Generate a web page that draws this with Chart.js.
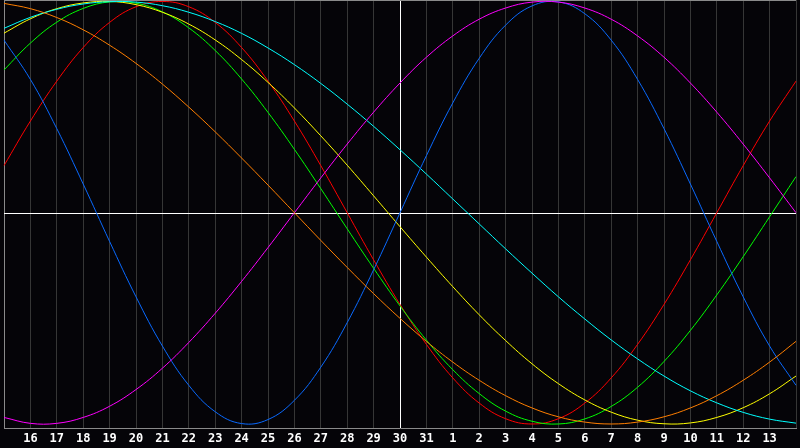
<!DOCTYPE html>
<html>
<head>
<meta charset="utf-8">
<script src="https://cdn.jsdelivr.net/npm/chart.js@4"></script>
<style>
  html, body { margin: 0; padding: 0; background: #050408; }
  #wrap { width: 800px; height: 448px; position: relative; }
</style>
</head>
<body>
<div id="wrap"><canvas id="bio"></canvas></div>
<script>
// day numbers along the bottom (15 .. 31, 1 .. 14); first and last are not printed
const dayLabels = ['15','16','17','18','19','20','21','22','23','24','25','26','27','28','29','30','31',
                   '1','2','3','4','5','6','7','8','9','10','11','12','13','14'];
const todayIndex = 15;

// curve values, one per day, -1 .. 1
const physical     = [0.817,0.631,0.398,0.136,-0.136,-0.398,-0.631,-0.817,-0.942,-0.998,-0.979,-0.888,-0.731,-0.520,-0.270,0.000,
                      0.270,0.520,0.731,0.888,0.979,0.998,0.942,0.817,0.631,0.398,0.136,-0.136,-0.398,-0.631,-0.817];
const emotional    = [0.223,0.434,0.623,0.782,0.901,0.975,1.000,0.975,0.901,0.782,0.623,0.434,0.223,0.000,-0.223,-0.434,
                      -0.623,-0.782,-0.901,-0.975,-1.000,-0.975,-0.901,-0.782,-0.623,-0.434,-0.223,0.000,0.223,0.434,0.623];
const intellectual = [0.676,0.803,0.902,0.967,0.998,0.992,0.951,0.875,0.768,0.633,0.475,0.300,0.114,-0.076,-0.263,-0.441,
                      -0.603,-0.743,-0.856,-0.939,-0.987,-1.000,-0.976,-0.917,-0.826,-0.704,-0.557,-0.389,-0.208,-0.019,0.171];
const intuitive    = [-0.969,-0.997,-0.997,-0.969,-0.916,-0.837,-0.736,-0.614,-0.476,-0.325,-0.165,0.000,0.165,0.325,0.476,0.614,
                      0.736,0.837,0.916,0.969,0.997,0.997,0.969,0.916,0.837,0.736,0.614,0.476,0.325,0.165,0.000];
const aesthetic    = [0.850,0.918,0.966,0.993,1.000,0.985,0.949,0.893,0.818,0.725,0.617,0.496,0.364,0.225,0.080,-0.066,
                      -0.210,-0.350,-0.483,-0.605,-0.715,-0.809,-0.886,-0.944,-0.982,-0.999,-0.995,-0.969,-0.923,-0.857,-0.773];
const awareness    = [0.991,0.966,0.924,0.866,0.793,0.707,0.609,0.500,0.383,0.259,0.131,0.000,-0.131,-0.259,-0.383,-0.500,
                      -0.609,-0.707,-0.793,-0.866,-0.924,-0.966,-0.991,-1.000,-0.991,-0.966,-0.924,-0.866,-0.793,-0.707,-0.609];
const spiritual    = [0.873,0.925,0.963,0.988,0.999,0.997,0.980,0.949,0.905,0.849,0.780,0.701,0.612,0.514,0.409,0.298,
                      0.183,0.065,-0.053,-0.171,-0.286,-0.398,-0.503,-0.602,-0.692,-0.773,-0.843,-0.900,-0.945,-0.977,-0.996];

const series = [
  { label: 'awareness',    data: awareness,    color: '#ff7f00' },
  { label: 'intuitive',    data: intuitive,    color: '#ff00ff' },
  { label: 'physical',     data: physical,     color: '#0a6aff' },
  { label: 'spiritual',    data: spiritual,    color: '#00ffff' },
  { label: 'aesthetic',    data: aesthetic,    color: '#ffff00' },
  { label: 'intellectual', data: intellectual, color: '#00ff00' },
  { label: 'emotional',    data: emotional,    color: '#ff0000' }
];

// zero line and the top frame line, drawn under the curves
const framePlugin = {
  id: 'frame',
  beforeDatasetsDraw(chart) {
    const { ctx, chartArea, scales } = chart;
    const y0 = Math.round(scales.y.getPixelForValue(0)) + 0.5;
    ctx.save();
    ctx.lineWidth = 1;
    ctx.strokeStyle = '#ffffff';
    ctx.beginPath();
    ctx.moveTo(chartArea.left, y0);
    ctx.lineTo(chartArea.right, y0);
    ctx.stroke();
    ctx.strokeStyle = '#8a8a8a';
    ctx.beginPath();
    ctx.moveTo(chartArea.left, chartArea.top + 0.5);
    ctx.lineTo(chartArea.right, chartArea.top + 0.5);
    ctx.stroke();
    ctx.restore();
  }
};

new Chart(document.getElementById('bio'), {
  type: 'line',
  data: {
    labels: dayLabels,
    datasets: series.map(s => ({
      label: s.label,
      data: s.data,
      borderColor: s.color,
      borderWidth: 1,
      pointRadius: 0,
      tension: 0.4,
      fill: false
    }))
  },
  options: {
    responsive: true,
    maintainAspectRatio: false,
    animation: false,
    layout: { padding: 0 },
    plugins: {
      legend: { display: false },
      tooltip: { enabled: false }
    },
    scales: {
      x: {
        offset: false,
        afterFit: s => { s.height = 20; },
        grid: {
          drawTicks: false,
          color: c => c.index === todayIndex ? '#ffffff' : (c.index === 0 ? '#8a8a8a' : '#363636'),
          lineWidth: 1
        },
        border: { color: '#8a8a8a' },
        ticks: {
          autoSkip: false,
          maxRotation: 0,
          padding: 4,
          color: '#ffffff',
          font: { family: 'DejaVu Sans Mono', size: 12, weight: 'bold' },
          callback: (v, i) => (i === 0 || i === dayLabels.length - 1) ? '' : dayLabels[i]
        }
      },
      y: {
        display: false,
        min: -1.019,
        max: 1.007
      }
    }
  },
  plugins: [framePlugin]
});
</script>
</body>
</html>
